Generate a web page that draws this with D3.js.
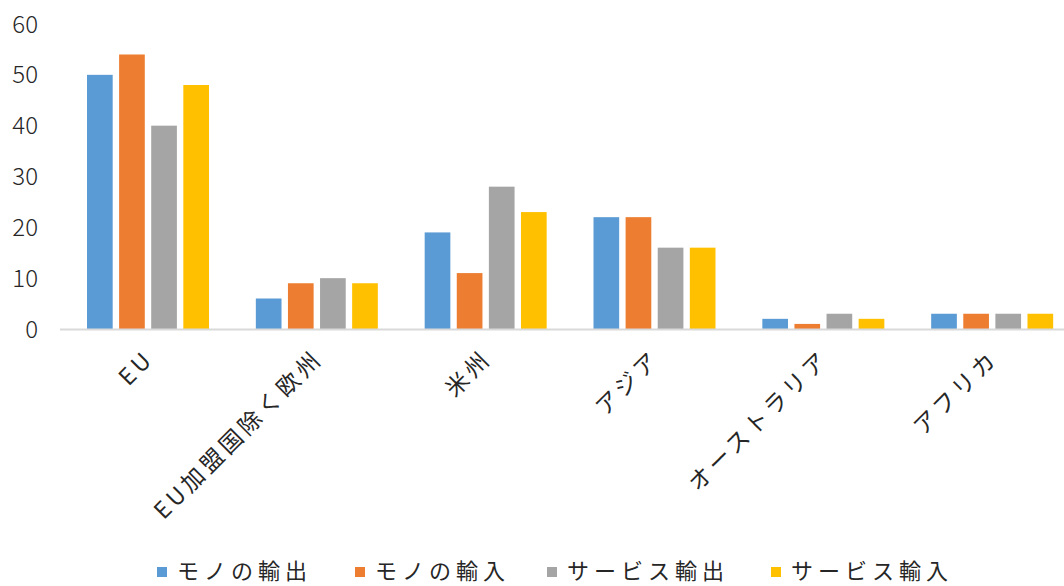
<!doctype html>
<html>
<head>
<meta charset="utf-8">
<title>chart</title>
<script src="https://d3js.org/d3.v7.min.js"></script>
<style>
  body { margin: 0; background: #fff; }
  text { font-family: "Noto Sans CJK JP", "Noto Sans", sans-serif; fill: #262626; }
</style>
</head>
<body>
<div id="chart"></div>
<script>
var categories = ["EU", "EU加盟国除く欧州", "米州", "アジア", "オーストラリア", "アフリカ"];
var seriesNames = ["モノの輸出", "モノの輸入", "サービス輸出", "サービス輸入"];
var seriesColors = ["#5B9BD5", "#ED7D31", "#A5A5A5", "#FFC000"];
var goodsExport = [50, 6, 19, 22, 2, 3];
var goodsImport = [54, 9, 11, 22, 1, 3];
var servicesExport = [40, 10, 28, 16, 3, 3];
var servicesImport = [48, 9, 23, 16, 2, 3];
var yTicks = [0, 10, 20, 30, 40, 50, 60];

var seriesValues = [goodsExport, goodsImport, servicesExport, servicesImport];

var width = 1064, height = 586;
var svg = d3.select("#chart").append("svg")
    .attr("width", width)
    .attr("height", height);

var x = d3.scaleBand()
    .domain(categories)
    .range([63, 1076])
    .paddingInner(0)
    .paddingOuter(0);

var x1 = d3.scaleBand()
    .domain(seriesNames)
    .range([24, 146])
    .paddingInner(0.2)
    .paddingOuter(0);

var y = d3.scaleLinear()
    .domain([0, 60])
    .range([329, 24]);

// y axis labels (no line, no ticks)
svg.append("g")
  .selectAll("text")
  .data(yTicks)
  .enter().append("text")
    .attr("x", 38)
    .attr("y", function(d) { return y(d); })
    .attr("dy", "0.36em")
    .attr("text-anchor", "end")
    .style("font-size", "24px")
    .style("font-weight", "300")
    .text(function(d) { return d; });

// bars
var groups = svg.selectAll(".grp")
    .data(categories)
  .enter().append("g")
    .attr("class", "grp")
    .attr("transform", function(d) { return "translate(" + x(d) + ",0)"; });

groups.selectAll("rect")
    .data(function(d, i) {
      return seriesNames.map(function(s, j) {
        return { series: s, value: seriesValues[j][i], color: seriesColors[j] };
      });
    })
  .enter().append("rect")
    .attr("x", function(d) { return x1(d.series); })
    .attr("width", x1.bandwidth())
    .attr("y", function(d) { return y(d.value); })
    .attr("height", function(d) { return y(0) - y(d.value); })
    .style("fill", function(d) { return d.color; });

// baseline
svg.append("line")
    .attr("x1", 60).attr("x2", width)
    .attr("y1", y(0) + 0.5).attr("y2", y(0) + 0.5)
    .style("stroke", "#D9D9D9")
    .style("stroke-width", 2);

// category labels rotated
svg.append("g")
  .selectAll("text")
  .data(categories)
  .enter().append("text")
    .attr("transform", function(d) {
      return "translate(" + (x(d) + x.bandwidth() / 2 + 8) + ",360) rotate(-45)";
    })
    .attr("text-anchor", "end")
    .style("font-size", "23px")
    .style("letter-spacing", "4px")
    .text(function(d) { return d; });

// legend
var legendX = [157, 355, 547, 771];
var legend = svg.append("g");
var items = legend.selectAll("g")
    .data(seriesNames)
  .enter().append("g")
    .attr("transform", function(d, i) { return "translate(" + legendX[i] + ",571)"; });

items.append("rect")
    .attr("x", 0).attr("y", -4)
    .attr("width", 10).attr("height", 10)
    .style("fill", function(d, i) { return seriesColors[i]; });

items.append("text")
    .attr("x", 20)
    .attr("y", 0)
    .attr("dy", "0.36em")
    .style("font-size", "22px")
    .style("letter-spacing", "5px")
    .text(function(d) { return d; });
</script>
</body>
</html>
